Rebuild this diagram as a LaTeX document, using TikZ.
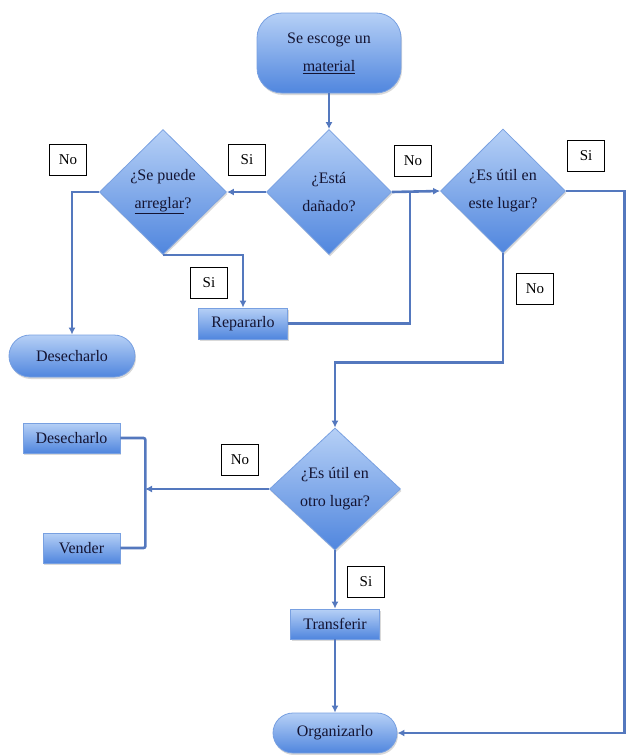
\documentclass[tikz,border=0pt]{standalone}
\usepackage{fontspec}
\setmainfont{Liberation Serif}
\usetikzlibrary{shapes.geometric,arrows.meta,shadows}
\definecolor{lineblue}{RGB}{84,120,190}
\definecolor{filltop}{RGB}{182,208,246}
\definecolor{fillbot}{RGB}{80,134,222}
\definecolor{edgeblue}{RGB}{120,160,225}
\definecolor{txt}{RGB}{20,20,50}
\begin{document}
\begin{tikzpicture}[x=1pt,y=-1pt,
  every node/.style={font=\fontsize{16}{28}\selectfont, text=txt},
  shp/.style={draw=edgeblue, line width=0.8pt, top color=filltop, bottom color=fillbot,
    drop shadow={opacity=0.3,shadow xshift=1pt,shadow yshift=-2pt}},
  dia/.style={shp, diamond, inner sep=0pt},
  proc/.style={shp, rectangle, inner sep=0pt},
  term/.style={shp, rectangle, inner sep=0pt},
  lbl/.style={draw=black, fill=white, line width=0.6pt, inner sep=0pt,
    minimum width=37pt, minimum height=31pt, font=\fontsize{15}{18}\selectfont, text=black},
  conn/.style={draw=lineblue, line width=2.6pt},
  arr/.style={conn, -{Latex[length=7pt,width=7pt]}},
]
\useasboundingbox (0,0) rectangle (626,755);

% shapes
\node[term, minimum width=144pt, minimum height=80pt, rounded corners=25pt] (start) at (329,53) {};
\node[align=center] (startt) at (start) {Se escoge un\\\underline{material}};

\node[dia, minimum width=125pt, minimum height=125pt] (dam) at (329,192) {};
\node[align=center] (damt) at (dam) {¿Está\\dañado?};

\node[dia, minimum width=127pt, minimum height=125pt] (fix) at (163,192) {};
\node[align=center] (fixt) at (fix) {¿Se puede\\\underline{arreglar}?};

\node[dia, minimum width=125pt, minimum height=124pt] (use) at (503,191) {};
\node[align=center] (uset) at (use) {¿Es útil en\\este lugar?};

\node[term, minimum width=126pt, minimum height=42pt, rounded corners=21pt] (des1) at (72,356) {Desecharlo};
\node[proc, minimum width=89pt, minimum height=31pt] (rep) at (243,323.5) {Repararlo};

\node[dia, minimum width=131pt, minimum height=122pt] (oth) at (335,489) {};
\node[align=center] (otht) at (oth) {¿Es útil en\\otro lugar?};

\node[proc, minimum width=97pt, minimum height=30pt] (des2) at (71.5,438) {Desecharlo};
\node[proc, minimum width=77pt, minimum height=30pt] (ven) at (81.5,548) {Vender};
\node[proc, minimum width=89pt, minimum height=30pt] (tra) at (335,624) {Transferir};
\node[term, minimum width=124pt, minimum height=40pt, rounded corners=20pt] (org) at (335,733) {Organizarlo};

% connectors
\coordinate (j1) at (410,192);
\coordinate (r1) at (624.5,191);
\coordinate (r2) at (624.5,733);
\coordinate (b) at (145,489);

\draw[arr] (start.south) -- (dam.north);
\draw[arr] (dam.west) -- (fix.east);
\draw[arr] (fix.west) -| (des1.north);
\draw[arr] (fix.south) -| (rep.north);
\draw[conn] (rep.east) -| (j1);
\draw[arr] (dam.east) -- (use.west);
\draw[arr] (use.east) -- (r1) -- (r2) -- (org.east);
\draw[arr] (use.south) -- ++(0,109) -| (oth.north);
\draw[arr] (oth.west) -- (b);
\draw[conn, rounded corners=2pt] (des2.east) -- ++(25,0) |- (ven.east);
\draw[arr] (oth.south) -- (tra.north);
\draw[arr] (tra.south) -- (org.north);

% labels
\node[lbl] (l1) at (68,160) {No};
\node[lbl] (l2) at (247,160) {Si};
\node[lbl] (l3) at (413,161) {No};
\node[lbl] (l4) at (586,156) {Si};
\node[lbl] (l5) at (209,283) {Si};
\node[lbl] (l6) at (535,289) {No};
\node[lbl] (l7) at (240,460) {No};
\node[lbl] (l8) at (366,582) {Si};
\end{tikzpicture}
\end{document}
